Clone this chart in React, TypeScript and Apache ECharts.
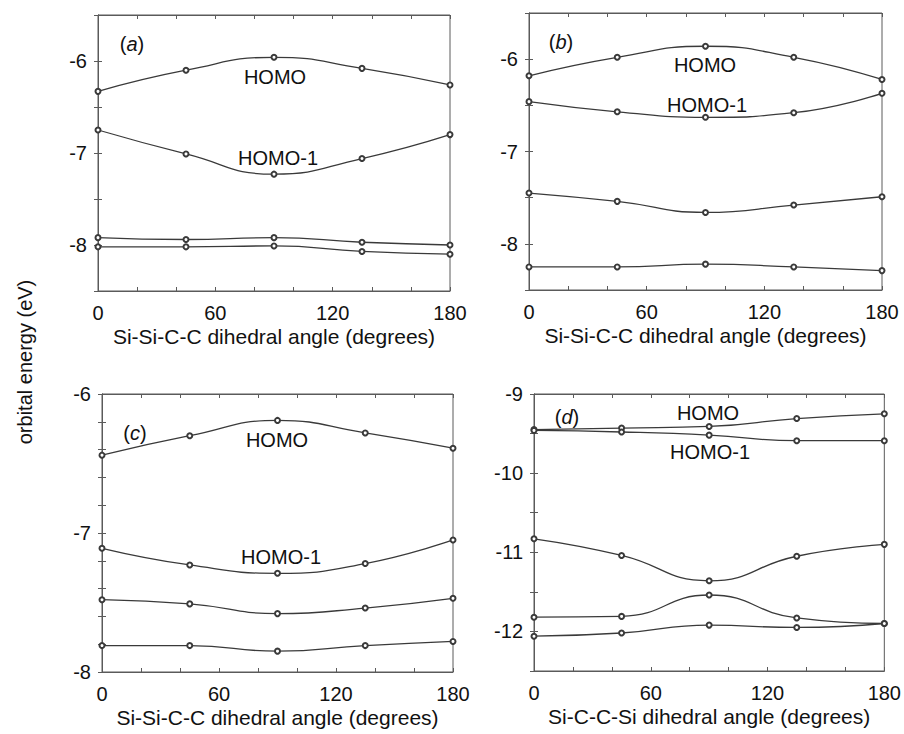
import React, { useEffect, useRef } from 'react';
import * as echarts from 'echarts';

const angles = [0, 45, 90, 135, 180];

// Panel (a)
const aHomo = [-6.33, -6.10, -5.96, -6.08, -6.26];
const aHomo1 = [-6.75, -7.01, -7.23, -7.06, -6.80];
const aOrb3 = [-7.92, -7.94, -7.92, -7.97, -8.0];
const aOrb4 = [-8.02, -8.02, -8.01, -8.07, -8.10];

// Panel (b)
const bHomo = [-6.18, -5.98, -5.86, -5.98, -6.22];
const bHomo1 = [-6.46, -6.57, -6.63, -6.58, -6.37];
const bOrb3 = [-7.45, -7.54, -7.66, -7.58, -7.49];
const bOrb4 = [-8.25, -8.25, -8.22, -8.25, -8.29];

// Panel (c)
const cHomo = [-6.44, -6.30, -6.19, -6.28, -6.39];
const cHomo1 = [-7.11, -7.23, -7.29, -7.22, -7.05];
const cOrb3 = [-7.48, -7.51, -7.58, -7.54, -7.47];
const cOrb4 = [-7.81, -7.81, -7.85, -7.81, -7.78];

// Panel (d)
const dHomo = [-9.45, -9.43, -9.41, -9.31, -9.25];
const dHomo1 = [-9.46, -9.48, -9.52, -9.59, -9.59];
const dOrb3 = [-10.83, -11.04, -11.36, -11.05, -10.90];
const dOrb4 = [-11.82, -11.81, -11.54, -11.83, -11.90];
const dOrb5 = [-12.06, -12.02, -11.92, -11.95, -11.90];

const xLabelStep = 60;
const xMinorStep = 20;
const xName1 = 'Si-Si-C-C dihedral angle (degrees)';
const xName2 = 'Si-C-C-Si dihedral angle (degrees)';
const yName = 'orbital energy (eV)';

const FONT = '"Liberation Sans", Arial, Helvetica, sans-serif';
const LINE = '#3a3a3a';
const BOX = '#5a5a5a';

const panels = [
  { grid: { left: 98, top: 15, width: 352, height: 276 }, yMin: -8.5, yMax: -5.5, yStep: 0.5, xName: xName1, series: [aHomo, aHomo1, aOrb3, aOrb4] },
  { grid: { left: 529, top: 13, width: 353, height: 277 }, yMin: -8.5, yMax: -5.5, yStep: 0.5, xName: xName1, series: [bHomo, bHomo1, bOrb3, bOrb4] },
  { grid: { left: 102, top: 394, width: 351, height: 278 }, yMin: -8, yMax: -6, yStep: 0.2, xName: xName1, series: [cHomo, cHomo1, cOrb3, cOrb4] },
  { grid: { left: 534, top: 394, width: 354, height: 277 }, yMin: -12.5, yMax: -9, yStep: 0.5, xName: xName2, series: [dHomo, dHomo1, dOrb3, dOrb4, dOrb5] },
];

const intLabel = (v: number) => (Math.abs(v - Math.round(v)) < 1e-6 ? String(Math.round(v)) : '');

export default function App() {
  const ref = useRef<HTMLDivElement>(null);
  useEffect(() => {
    if (!ref.current) return;
    const chart = echarts.init(ref.current, undefined, { renderer: 'svg' });
    const grids: any[] = [];
    const xAxes: any[] = [];
    const yAxes: any[] = [];
    const series: any[] = [];
    panels.forEach((p, i) => {
      grids.push({ ...p.grid, show: true, borderColor: BOX, borderWidth: 1, backgroundColor: 'transparent' });
      const tick = { show: true, inside: true, length: 4, lineStyle: { color: BOX } };
      const axLine = { show: true, lineStyle: { color: BOX, width: 1 } };
      xAxes.push({
        type: 'value', gridIndex: i, min: 0, max: 180, interval: xMinorStep, position: 'bottom',
        axisLine: axLine, axisTick: tick, splitLine: { show: false },
        axisLabel: { margin: 12, fontSize: 20, color: '#111', fontFamily: FONT, formatter: (v: number) => (v % xLabelStep === 0 ? String(v) : '') },
        name: p.xName, nameLocation: 'middle', nameGap: 35,
        nameTextStyle: { fontSize: 21, color: '#111', fontFamily: FONT },
      });
      xAxes.push({
        type: 'value', gridIndex: i, min: 0, max: 180, interval: xMinorStep, position: 'top',
        axisLine: axLine, axisTick: tick, splitLine: { show: false }, axisLabel: { show: false },
      });
      yAxes.push({
        type: 'value', gridIndex: i, min: p.yMin, max: p.yMax, interval: p.yStep, position: 'left',
        axisLine: axLine, axisTick: tick, splitLine: { show: false },
        axisLabel: { margin: 11, fontSize: 20, color: '#111', fontFamily: FONT, formatter: intLabel },
      });
      yAxes.push({
        type: 'value', gridIndex: i, min: p.yMin, max: p.yMax, interval: p.yStep, position: 'right',
        axisLine: axLine, axisTick: tick, splitLine: { show: false }, axisLabel: { show: false },
      });
      p.series.forEach((vals) => {
        series.push({
          type: 'line', xAxisIndex: i * 2, yAxisIndex: i * 2, smooth: 0.5,
          data: angles.map((a, k) => [a, vals[k]]),
          symbol: 'emptyCircle', symbolSize: 5,
          lineStyle: { color: LINE, width: 1.3 },
          itemStyle: { color: LINE, borderColor: LINE, borderWidth: 1 },
        });
      });
    });

    const txt = (x: number, y: number, text: string, extra: any = {}) => ({
      type: 'text', x, y,
      style: { text, fontSize: 20, fontFamily: FONT, fill: '#111', align: 'center', verticalAlign: 'middle', ...extra },
    });
    const panelLabel = (x: number, y: number, letter: string) => ({
      type: 'text', x, y,
      style: {
        text: `{n|(}{i|${letter}}{n|)}`, align: 'center', verticalAlign: 'middle',
        rich: {
          n: { fontSize: 20, fontFamily: FONT, fill: '#111' },
          i: { fontSize: 20, fontFamily: FONT, fontStyle: 'italic', fill: '#111' },
        },
      },
    });

    chart.setOption({
      animation: false,
      backgroundColor: '#fff',
      grid: grids,
      xAxis: xAxes,
      yAxis: yAxes,
      series,
      graphic: [
        panelLabel(132, 44, 'a'),
        txt(275, 77, 'HOMO'),
        txt(278, 158, 'HOMO-1'),
        panelLabel(561, 42, 'b'),
        txt(705, 65, 'HOMO'),
        txt(707, 105, 'HOMO-1'),
        panelLabel(135, 433, 'c'),
        txt(277, 440, 'HOMO'),
        txt(281, 557, 'HOMO-1'),
        panelLabel(567, 417, 'd'),
        txt(708, 413, 'HOMO'),
        txt(710, 452, 'HOMO-1'),
        { ...txt(25, 362, yName, { fontSize: 20 }), rotation: Math.PI / 2 },
      ],
    });
    return () => chart.dispose();
  }, []);
  return <div ref={ref} style={{ position: 'fixed', left: 0, top: 0, width: 904, height: 734, background: '#fff' }} />;
}
